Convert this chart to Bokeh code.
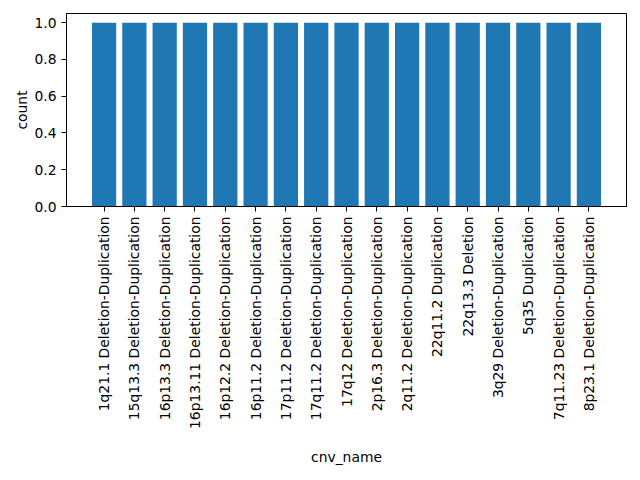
import math
from bokeh.plotting import figure
from bokeh.models import Range1d, FixedTicker, NumeralTickFormatter
from bokeh.embed import file_html
from bokeh.resources import INLINE

cnv_names = [
    "1q21.1 Deletion-Duplication",
    "15q13.3 Deletion-Duplication",
    "16p13.3 Deletion-Duplication",
    "16p13.11 Deletion-Duplication",
    "16p12.2 Deletion-Duplication",
    "16p11.2 Deletion-Duplication",
    "17p11.2 Deletion-Duplication",
    "17q11.2 Deletion-Duplication",
    "17q12 Deletion-Duplication",
    "2p16.3 Deletion-Duplication",
    "2q11.2 Deletion-Duplication",
    "22q11.2 Duplication",
    "22q13.3 Deletion",
    "3q29 Deletion-Duplication",
    "5q35 Duplication",
    "7q11.23 Deletion-Duplication",
    "8p23.1 Deletion-Duplication",
]
counts = [1, 1, 1, 1, 1, 1, 1, 1, 1, 1, 1, 1, 1, 1, 1, 1, 1]
y_ticks = [0.0, 0.2, 0.4, 0.6, 0.8, 1.0]

n = len(cnv_names)
xs = list(range(n))
pad = 0.05 * (n - 1 + 0.8)

p = figure(width=640, height=480, output_backend="svg", toolbar_location=None,
           x_range=Range1d(-0.4 - pad, n - 1 + 0.4 + pad),
           y_range=Range1d(0, 1.05 * max(counts)),
           min_border_left=66, min_border_right=14, min_border_top=13,
           min_border_bottom=274)

p.vbar(x=xs, top=counts, width=0.8, bottom=0, color="#1f77b4", line_color=None)

font = "DejaVu Sans"
fs = "13.89px"

p.xaxis.ticker = FixedTicker(ticks=xs)
p.xaxis.major_label_overrides = {i: name for i, name in enumerate(cnv_names)}
p.xaxis.major_label_orientation = math.pi / 2
p.xaxis.axis_label = "cnv_name"
p.xaxis.axis_label_standoff = 17

p.yaxis.ticker = FixedTicker(ticks=y_ticks)
p.yaxis.formatter = NumeralTickFormatter(format="0.0")
p.yaxis.axis_label = "count"
p.yaxis.axis_label_standoff = 1

for ax in (p.xaxis[0], p.yaxis[0]):
    ax.major_label_text_font = font
    ax.major_label_text_font_size = fs
    ax.major_label_text_color = "black"
    ax.axis_label_text_font = font
    ax.axis_label_text_font_size = fs
    ax.axis_label_text_font_style = "normal"
    ax.axis_label_text_color = "black"
    ax.major_tick_in = 0
    ax.major_tick_out = 5
    ax.minor_tick_in = 0
    ax.minor_tick_out = 0
    ax.axis_line_color = "black"
    ax.major_tick_line_color = "black"
    ax.major_label_standoff = 5

p.xgrid.visible = False
p.ygrid.visible = False
p.outline_line_color = "black"
p.outline_line_alpha = 1

open("out.html", "w").write(file_html(p, INLINE))
